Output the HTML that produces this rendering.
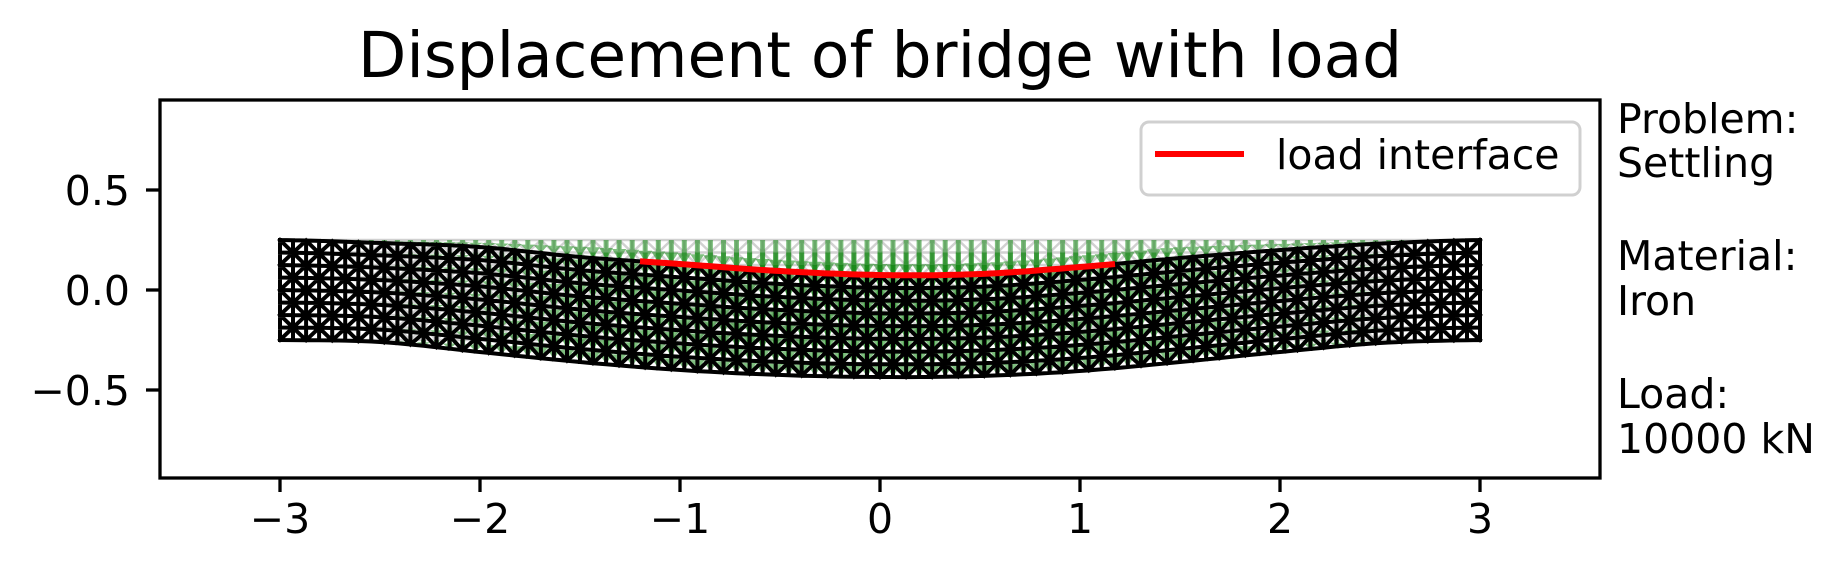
<!DOCTYPE html>
<html><head><meta charset="utf-8"><style>
html,body{margin:0;padding:0;background:#fff;}
svg{display:block;font-family:"DejaVu Sans","Liberation Sans",sans-serif;}
</style></head><body>
<svg id="chart" width="1845" height="577" viewBox="0 0 1845 577" xmlns="http://www.w3.org/2000/svg">
<rect width="1845" height="577" fill="#fff"/>
<text x="880" y="77" font-size="63" text-anchor="middle" fill="#000">Displacement of bridge with load</text>
<clipPath id="clip"><rect x="160" y="100" width="1440" height="378"/></clipPath>
<g id="plot" clip-path="url(#clip)"></g>
<rect x="160" y="100" width="1440" height="378" fill="none" stroke="#000" stroke-width="3.3"/>
<g id="axes"></g>
<g>
<rect x="1141" y="122" width="439" height="73" rx="8" fill="#fff" fill-opacity="0.8" stroke="#d0d0d0" stroke-width="3"/>
<line x1="1155" y1="154" x2="1244" y2="154" stroke="#ff0000" stroke-width="6"/>
<text x="1276" y="169" font-size="41" fill="#000">load interface</text>
</g>
<g font-size="41" fill="#000">
<text x="1617" y="133">Problem:</text>
<text x="1617" y="177">Settling</text>
<text x="1617" y="270">Material:</text>
<text x="1617" y="315">Iron</text>
<text x="1617" y="408">Load:</text>
<text x="1617" y="453">10000 kN</text>
</g>
</svg>
<script>
const xTicks = [-3, -2, -1, 0, 1, 2, 3];
const xTickLabels = ["\u22123", "\u22122", "\u22121", "0", "1", "2", "3"];
const yTicks = [0.5, 0, -0.5];
const yTickLabels = ["0.5", "0.0", "\u22120.5"];
const knotX = [-3, -2.5, -2, -1.5, -1, -0.5, 0, 0.5, 1, 1.5, 2, 2.5, 3];
const topDisp = [0, -0.015, -0.035, -0.085, -0.12, -0.155, -0.175, -0.17, -0.135, -0.09, -0.05, -0.018, 0];
const bottomDisp = [0, -0.01, -0.06, -0.11, -0.15, -0.175, -0.185, -0.18, -0.155, -0.11, -0.06, -0.015, 0];
const beamX = [-3, 3];
const beamY = [-0.25, 0.25];
const loadRange = [-1.2, 1.175];
const meshCols = 92;
const meshRows = 8;

const NS = "http://www.w3.org/2000/svg";
const sx = x => 880 + 200 * x;
const sy = y => 290 - 200 * y;
const plot = document.getElementById('plot');
const axes = document.getElementById('axes');

function mk(tag, attrs, parent) {
  const e = document.createElementNS(NS, tag);
  for (const k in attrs) e.setAttribute(k, attrs[k]);
  parent.appendChild(e);
  return e;
}
function interp(arr, x) {
  const h = knotX[1] - knotX[0];
  let i = Math.floor((x - knotX[0]) / h);
  i = Math.max(0, Math.min(knotX.length - 2, i));
  const t = (x - knotX[i]) / h;
  const p0 = arr[Math.max(0, i - 1)], p1 = arr[i], p2 = arr[i + 1], p3 = arr[Math.min(arr.length - 1, i + 2)];
  return 0.5 * ((2 * p1) + (-p0 + p2) * t + (2 * p0 - 5 * p1 + 4 * p2 - p3) * t * t + (-p0 + 3 * p1 - 3 * p2 + p3) * t * t * t);
}
function disp(x, y) {
  const f = (y - beamY[0]) / (beamY[1] - beamY[0]);
  return interp(bottomDisp, x) * (1 - f) + interp(topDisp, x) * f;
}
const nodeX = i => beamX[0] + (beamX[1] - beamX[0]) * i / meshCols;
const nodeY = j => beamY[0] + (beamY[1] - beamY[0]) * j / meshRows;

function meshPath(deformed) {
  let d = '';
  const P = (i, j) => {
    const x = nodeX(i), y = nodeY(j);
    const yy = deformed ? y + disp(x, y) : y;
    return sx(x).toFixed(1) + ',' + sy(yy).toFixed(1);
  };
  for (let j = 0; j <= meshRows; j++) {
    d += 'M' + P(0, j);
    for (let i = 1; i <= meshCols; i++) d += 'L' + P(i, j);
  }
  for (let i = 0; i <= meshCols; i++) {
    d += 'M' + P(i, 0);
    for (let j = 1; j <= meshRows; j++) d += 'L' + P(i, j);
  }
  for (let i = 0; i < meshCols; i++) for (let j = 0; j < meshRows; j++) {
    if ((i + j) % 2 === 0) d += 'M' + P(i, j) + 'L' + P(i + 1, j + 1);
    else d += 'M' + P(i + 1, j) + 'L' + P(i, j + 1);
  }
  return d;
}

const um = mk('path', { d: meshPath(false), fill: 'none', stroke: '#000', 'stroke-opacity': '0.18', 'stroke-width': '2.5' }, plot);



const ag = mk('g', { fill: '#008000', 'fill-opacity': '0.5' }, plot);


for (let i = 0; i <= meshCols; i++) for (let j = 0; j <= meshRows; j++) {
  const x = nodeX(i), y = nodeY(j);
  const dy = disp(x, y);
  const X = sx(x), Y0 = sy(y), Y1 = sy(y + dy);
  const L = Y1 - Y0;
  if (L < 1) continue;
  const hl = Math.min(11, L * 0.6), hw = 7, sw = 2.5;
  const pts = [[X - sw, Y0], [X + sw, Y0], [X + sw, Y1 - hl], [X + hw, Y1 - hl], [X, Y1], [X - hw, Y1 - hl], [X - sw, Y1 - hl]];
  const a = mk('polygon', { points: pts.map(p => p[0].toFixed(1) + ',' + p[1].toFixed(1)).join(' ') }, ag);
  
  
}

const dm = mk('path', { d: meshPath(true), fill: 'none', stroke: '#000', 'stroke-width': '4', 'stroke-linecap': 'square' }, plot);



let ld = '';
for (let k = 0; k <= 60; k++) {
  const x = loadRange[0] + (loadRange[1] - loadRange[0]) * k / 60;
  ld += (k ? 'L' : 'M') + sx(x).toFixed(1) + ',' + sy(beamY[1] + disp(x, beamY[1])).toFixed(1);
}
const lp = mk('path', { d: ld, fill: 'none', stroke: '#ff0000', 'stroke-width': '6' }, plot);



xTicks.forEach((v, k) => {
  const t = mk('line', { x1: sx(v), y1: 478, x2: sx(v), y2: 492, stroke: '#000', 'stroke-width': '3.3' }, axes);
  
  
  const l = mk('text', { x: sx(v), y: 533, 'font-size': '41', 'text-anchor': 'middle', fill: '#000' }, axes);
  l.textContent = xTickLabels[k];
  
  
});
yTicks.forEach((v, k) => {
  const t = mk('line', { x1: 146, y1: sy(v), x2: 160, y2: sy(v), stroke: '#000', 'stroke-width': '3.3' }, axes);
  
  
  const l = mk('text', { x: 130, y: sy(v) + 15, 'font-size': '41', 'text-anchor': 'end', fill: '#000' }, axes);
  l.textContent = yTickLabels[k];
  
  
});
</script>
</body></html>
